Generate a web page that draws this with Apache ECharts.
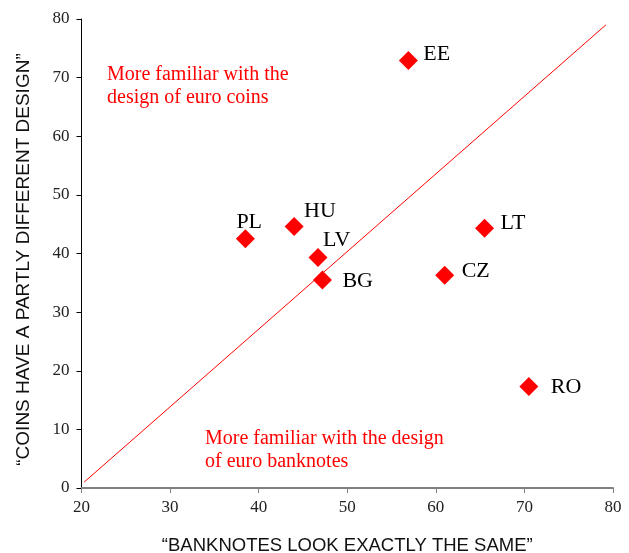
<!DOCTYPE html>
<html>
<head>
<meta charset="utf-8">
<script src="https://cdn.jsdelivr.net/npm/echarts@6/dist/echarts.min.js"></script>
<style>
  html, body { margin: 0; padding: 0; background: #fff; }
  #chart { width: 629px; height: 553px; }
</style>
</head>
<body>
<div id="chart"></div>
<script>
// countries and their two survey answers (%)
var countries = ['EE', 'LT', 'CZ', 'BG', 'LV', 'HU', 'PL', 'RO'];
var banknotesSame = [56.9, 65.5, 61.0, 47.2, 46.7, 44.0, 38.5, 70.5];
var coinsDifferent = [72.9, 44.3, 36.3, 35.5, 39.3, 44.6, 42.5, 17.3];
// diagonal reference line
var diagX = [20.3, 79.2];
var diagY = [1.0, 79.0];

// label offsets from the marker centre (left edge, middle)
var labelOffsets = [[15, -6], [16, -5], [17, -4], [20, 1], [5, -17], [10, -15], [-9, -17], [22, 1]];

var serif = '"Liberation Serif", "DejaVu Serif", serif';
var sans = '"Liberation Sans", Arial, sans-serif';

var points = [];
for (var i = 0; i < countries.length; i++) {
    points.push({
        name: countries[i],
        value: [banknotesSame[i], coinsDifferent[i]],
        label: {offset: labelOffsets[i]}
    });
}
var diag = [];
for (var j = 0; j < diagX.length; j++) {
    diag.push([diagX[j], diagY[j]]);
}

var myChart = echarts.init(document.getElementById('chart'));
var option = {
    animation: false,
    grid: {left: 81.5, right: 16, top: 19, bottom: 65, containLabel: false, outerBoundsMode: 'none'},
    xAxis: {
        type: 'value',
        min: 20,
        max: 80,
        interval: 10,
        name: '\u201cBANKNOTES LOOK EXACTLY THE SAME\u201d',
        nameLocation: 'middle',
        nameGap: 48,
        nameTextStyle: {fontFamily: sans, fontSize: 18.5, color: '#111'},
        axisLine: {lineStyle: {color: '#808080', width: 2}},
        axisTick: {length: 5, lineStyle: {color: '#808080', width: 1}},
        axisLabel: {margin: 11, fontFamily: serif, fontSize: 17, color: '#222'},
        splitLine: {show: false}
    },
    yAxis: {
        type: 'value',
        min: 0,
        max: 80,
        interval: 10,
        name: '\u201cCOINS HAVE A PARTLY DIFFERENT DESIGN\u201d',
        nameLocation: 'middle',
        nameGap: 48,
        nameTextStyle: {fontFamily: sans, fontSize: 19, color: '#111', padding: [0, 12, 0, 0]},
        axisLine: {show: true, lineStyle: {color: '#000', width: 1}},
        axisTick: {show: true, length: 5, lineStyle: {color: '#000', width: 1}},
        axisLabel: {margin: 12, fontFamily: serif, fontSize: 17, color: '#222'},
        splitLine: {show: false}
    },
    series: [
        {
            type: 'line',
            data: diag,
            symbol: 'none',
            silent: true,
            lineStyle: {color: '#ff0000', width: 1}
        },
        {
            type: 'scatter',
            data: points,
            symbol: 'diamond',
            symbolSize: 19,
            itemStyle: {color: '#ff0000', opacity: 1},
            label: {
                show: true,
                position: 'inside',
                align: 'left',
                verticalAlign: 'middle',
                formatter: '{b}',
                fontFamily: serif,
                fontSize: 22,
                color: '#000'
            }
        }
    ],
    graphic: [
        {
            type: 'text',
            left: 107,
            top: 63,
            style: {
                text: 'More familiar with the\ndesign of euro coins',
                fontFamily: serif,
                fontSize: 20,
                lineHeight: 23,
                fill: '#ff0000'
            }
        },
        {
            type: 'text',
            left: 205,
            top: 427,
            style: {
                text: 'More familiar with the design\nof euro banknotes',
                fontFamily: serif,
                fontSize: 20,
                lineHeight: 23,
                fill: '#ff0000'
            }
        }
    ]
};
myChart.setOption(option);
</script>
</body>
</html>
